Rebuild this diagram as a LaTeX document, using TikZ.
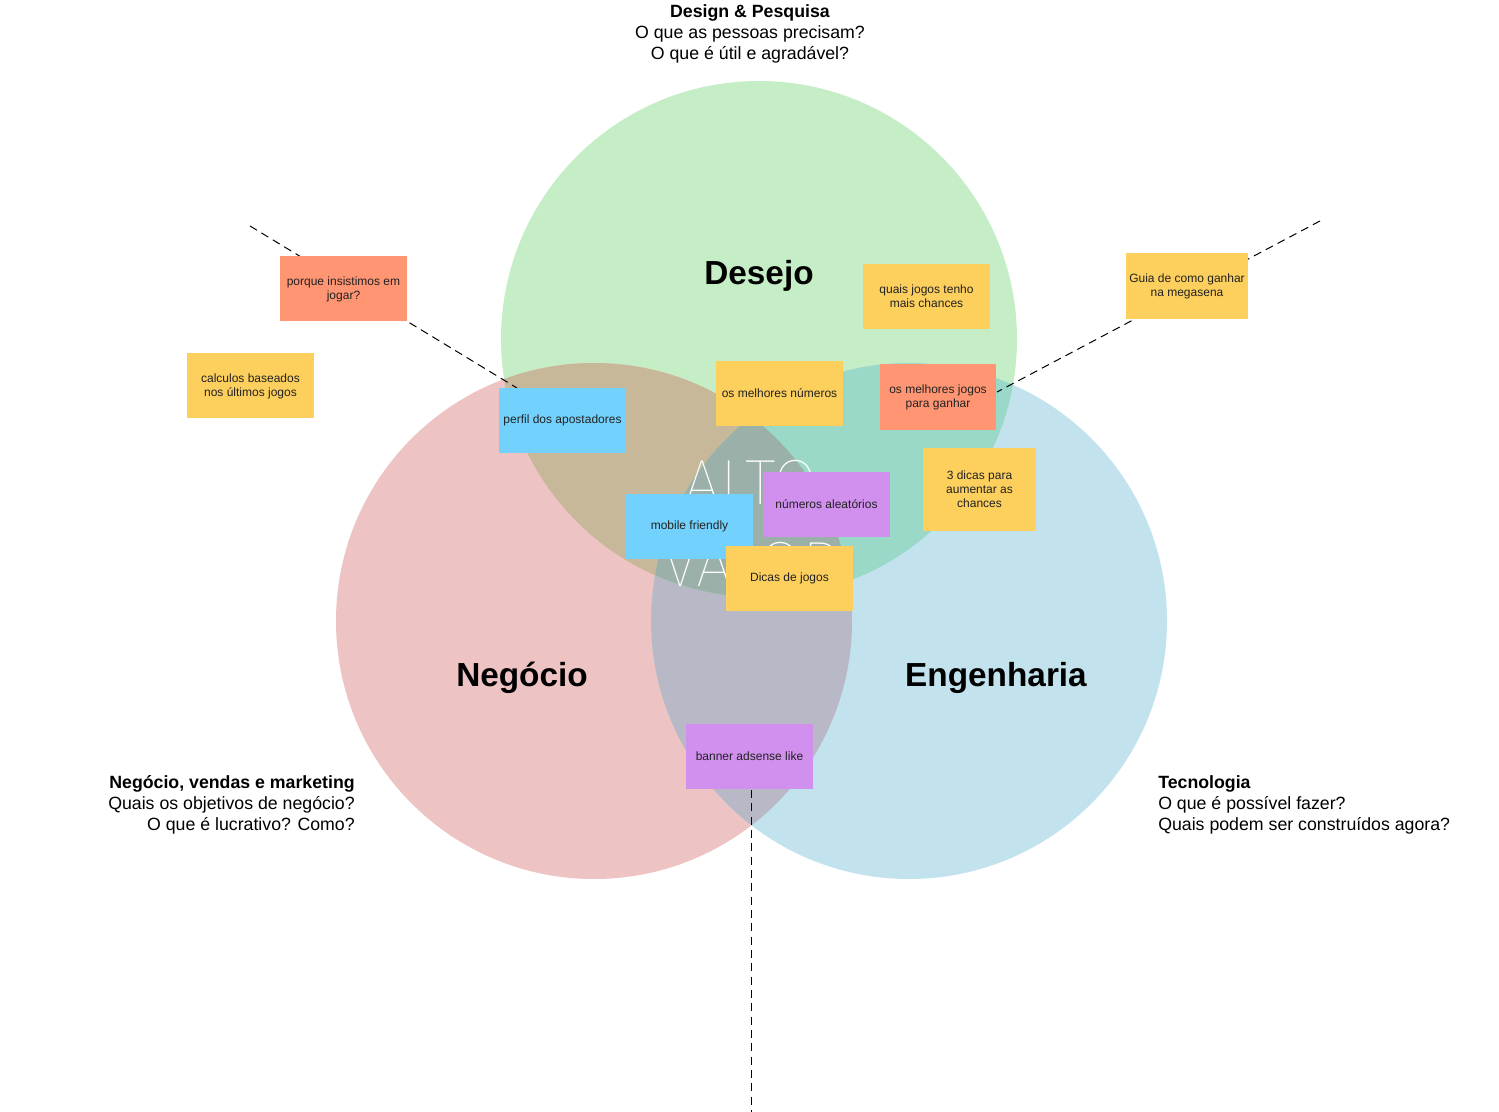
\documentclass[tikz,border=0pt]{standalone}
\usepackage{fontspec}
\setmainfont{Liberation Sans}
\newfontfamily\thinfont{Fira Sans Thin}
\definecolor{desejo}{HTML}{C6EEC6}
\definecolor{negocio}{HTML}{EEC3C3}
\definecolor{engenharia}{HTML}{C2E2EE}
\definecolor{desneg}{HTML}{C6B898}
\definecolor{deseng}{HTML}{9AD8C8}
\definecolor{negeng}{HTML}{B8B8C6}
\definecolor{altovalor}{HTML}{9AB0A8}
\definecolor{postyellow}{HTML}{FDD05E}
\definecolor{postsalmon}{HTML}{FF9573}
\definecolor{postblue}{HTML}{72D2FD}
\definecolor{postpurple}{HTML}{D18FEE}
\definecolor{ink}{HTML}{222222}
\begin{document}
\begin{tikzpicture}[x=0.75pt, y=-0.75pt,
    sticky/.style={inner sep=0pt, minimum width=95.25pt, minimum height=48.75pt, align=center, text=ink, font=\fontsize{9}{10.5}\selectfont},
    bigtitle/.style={anchor=base, font=\fontsize{25}{30}\selectfont\bfseries},
    question/.style={inner sep=0pt, font=\fontsize{13.3}{15.75}\selectfont},
    guide/.style={dashed, dash pattern=on 6pt off 4pt, line width=0.75pt}]
    \useasboundingbox (0,0) rectangle (1499,1112);
    % Circles
    \coordinate (cdes) at (759,339);
    \coordinate (cneg) at (594,621);
    \coordinate (ceng) at (909,621);
    \fill[desejo] (cdes) circle [radius=193.5pt];
    \fill[negocio] (cneg) circle [radius=193.5pt];
    \fill[engenharia] (ceng) circle [radius=193.5pt];
    \begin{scope}
        \clip (cneg) circle [radius=193.5pt];
        \fill[negeng] (ceng) circle [radius=193.5pt];
    \end{scope}
    \begin{scope}
        \clip (cdes) circle [radius=193.5pt];
        \fill[desneg] (cneg) circle [radius=193.5pt];
        \fill[deseng] (ceng) circle [radius=193.5pt];
        \clip (cneg) circle [radius=193.5pt];
        \fill[altovalor] (ceng) circle [radius=193.5pt];
    \end{scope}
    % Labels
    \node[bigtitle] (desejo) at (759,285) {Desejo};
    \node[bigtitle] (negocio) at (522,686) {Negócio};
    \node[bigtitle] (engenharia) at (996,686) {Engenharia};
    \node[white, align=center, font=\fontsize{48}{61.5}\selectfont\thinfont] (alto) at (751,524) {ALTO\\VALOR};
    \node[question, anchor=north, align=center] (design) at (750,4) {\textbf{Design \& Pesquisa}\\O que as pessoas precisam?\\O que é útil e agradável?};
    \node[question, anchor=north east, align=right] (vendas) at (355,775) {\textbf{Negócio, vendas e marketing}\\Quais os objetivos de negócio?\\O que é lucrativo? Como?};
    \node[question, anchor=north west, align=left] (tecnologia) at (1158,775) {\textbf{Tecnologia}\\O que é possível fazer?\\Quais podem ser construídos agora?};
    % Guide lines
    \coordinate (gleft) at (250,226);
    \coordinate (gleftend) at (517,388);
    \coordinate (gright) at (1320,221);
    \coordinate (grightend) at (997,392);
    \coordinate (gbottom) at (751,1112);
    \coordinate (gbottomstart) at (751,790);
    \draw[guide] (gleft) -- (gleftend);
    \draw[guide] (gright) -- (grightend);
    \draw[guide] (gbottomstart) -- (gbottom);
    % Sticky notes
    \node[sticky, fill=postsalmon] (porque) at (343.5,289) {porque insistimos em\\jogar?};
    \node[sticky, fill=postyellow] (calculos) at (250.5,386) {calculos baseados\\nos últimos jogos};
    \node[sticky, fill=postblue] (perfil) at (562.5,420.5) {perfil dos apostadores};
    \node[sticky, fill=postyellow] (numeros) at (779.5,393.5) {os melhores números};
    \node[sticky, fill=postyellow] (quais) at (926.5,296.5) {quais jogos tenho\\mais chances};
    \node[sticky, fill=postsalmon, minimum width=87pt, minimum height=49.5pt] (melhores) at (938,397) {os melhores jogos\\para ganhar};
    \node[sticky, fill=postyellow, minimum width=91.5pt, minimum height=49.5pt] (guia) at (1187,286) {Guia de como ganhar\\na megasena};
    \node[sticky, fill=postyellow, minimum width=84.75pt, minimum height=62.25pt] (tresdicas) at (979.5,489.5) {3 dicas para\\aumentar as\\chances};
    \node[sticky, fill=postblue] (mobile) at (689.5,526.5) {mobile friendly};
    \node[sticky, fill=postpurple] (aleatorios) at (826.5,504) {números aleatórios};
    \node[sticky, fill=postyellow] (dicas) at (789.5,578) {Dicas de jogos};
    \node[sticky, fill=postpurple] (banner) at (749.5,756.5) {banner adsense like};
\end{tikzpicture}
\end{document}
